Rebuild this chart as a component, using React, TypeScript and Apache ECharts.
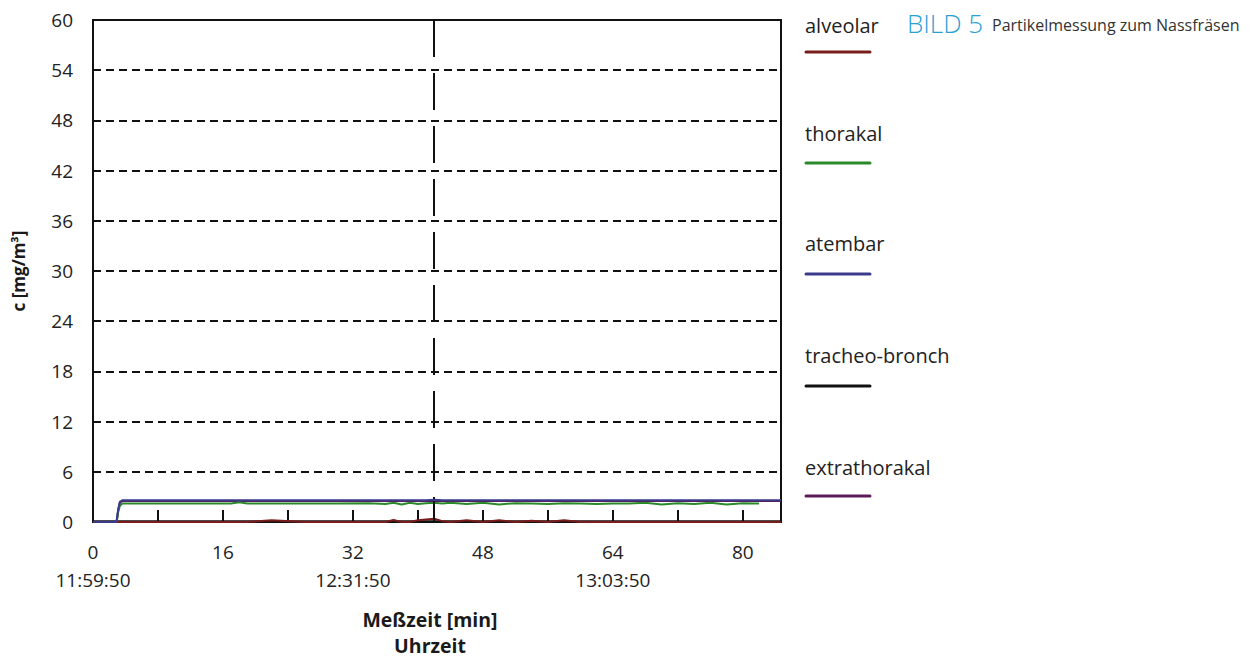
import React, { useEffect, useRef } from "react";
import * as echarts from "echarts";

const minutes = [0, 2.9, 3.1, 3.3, 3.6, 6, 10, 14, 17, 18, 19, 22, 26, 30, 34, 36, 37, 38, 39, 40, 41, 42, 43, 44, 46, 48, 50, 52, 54, 56, 58, 60, 62, 64, 66, 68, 70, 72, 74, 76, 78, 80, 81.5, 82, 84.7];

const atembar = [0, 0, 1.5, 2.4, 2.6, 2.6, 2.6, 2.6, 2.6, 2.6, 2.6, 2.6, 2.6, 2.6, 2.6, 2.6, 2.6, 2.6, 2.6, 2.6, 2.6, 2.65, 2.6, 2.6, 2.6, 2.6, 2.6, 2.6, 2.6, 2.6, 2.6, 2.6, 2.6, 2.6, 2.6, 2.6, 2.6, 2.6, 2.6, 2.6, 2.6, 2.6, 2.6, 2.6, 2.6];
const thorakal = [0, 0, 1.2, 1.9, 2.2, 2.2, 2.2, 2.2, 2.2, 2.35, 2.2, 2.2, 2.2, 2.2, 2.25, 2.15, 2.3, 2.1, 2.3, 2.15, 2.25, 2.3, 2.2, 2.3, 2.15, 2.3, 2.1, 2.25, 2.2, 2.15, 2.25, 2.2, 2.15, 2.2, 2.2, 2.3, 2.1, 2.25, 2.15, 2.3, 2.1, 2.25, 2.2, 2.2, null];
const extrathorakal = [0, 0, 1.4, 2.3, 2.5, 2.5, 2.5, 2.5, 2.5, 2.5, 2.5, 2.5, 2.5, 2.5, 2.5, 2.5, 2.5, 2.5, 2.5, 2.5, 2.5, 2.5, 2.5, 2.5, 2.5, 2.5, 2.5, 2.5, 2.5, 2.5, 2.5, 2.5, 2.5, 2.5, 2.5, 2.5, 2.5, 2.5, 2.5, 2.5, 2.5, 2.5, 2.5, 2.5, 2.5];
const trachBronch = [0.1, 0.1, 0.1, 0.1, 0.1, 0.1, 0.1, 0.1, 0.1, 0.1, 0.1, 0.1, 0.1, 0.1, 0.1, 0.1, 0.1, 0.1, 0.1, 0.1, 0.1, 0.1, 0.1, 0.1, 0.1, 0.1, 0.1, 0.1, 0.1, 0.1, 0.1, 0.1, 0.1, 0.1, 0.1, 0.1, 0.1, 0.1, 0.1, 0.1, 0.1, 0.1, 0.1, 0.1, 0.1];
const alveolar = [0, 0, 0, 0, 0, 0, 0, 0, 0, 0, 0, 0.2, 0, 0, 0, 0, 0.25, 0, 0, 0.2, 0.3, 0.4, 0.1, 0, 0.2, 0, 0.2, 0, 0.15, 0, 0.2, 0, 0, 0, 0, 0, 0, 0, 0, 0, 0, 0, 0, 0, 0];

const markerMinute = 42;

const xTickValues = [0, 16, 32, 48, 64, 80];
const xTimeLabels = ["11:59:50", "", "12:31:50", "", "13:03:50", ""];

const legendNames = ["alveolar", "thorakal", "atembar", "tracheo-bronch", "extrathorakal"];
const legendColors = ["#7a1c1c", "#2a8a2a", "#3a3a8c", "#111111", "#5e1a58"];

const FONT = "'Open Sans', 'Noto Sans', sans-serif";

export default function App() {
  const ref = useRef<HTMLDivElement>(null);

  useEffect(() => {
    if (!ref.current) return;
    const chart = echarts.init(ref.current, undefined, { renderer: "svg" });

    const mk = (vals: (number | null)[]) => minutes.map((m, i) => [m, vals[i]]);

    const legendTextY = [25, 133, 243, 355, 467];
    const legendLineY = [52, 163, 274, 386, 496];

    const graphics: any[] = [];
    legendNames.forEach((n, i) => {
      graphics.push({
        type: "text",
        x: 805,
        y: legendTextY[i],
        style: { text: n, fill: "#222222", font: `20px ${FONT}`, verticalAlign: "middle" },
      });
      graphics.push({
        type: "line",
        shape: { x1: 806, y1: legendLineY[i], x2: 870, y2: legendLineY[i] },
        style: { stroke: legendColors[i], lineWidth: 3, lineCap: "round" },
      });
    });
    graphics.push({
      type: "text",
      x: 907,
      y: 23,
      style: { text: "BILD 5", fill: "#2a9fd6", font: `300 26px ${FONT}`, verticalAlign: "middle" },
    });
    graphics.push({
      type: "text",
      x: 992,
      y: 25,
      style: { text: "Partikelmessung zum Nassfräsen", fill: "#333333", font: `16px ${FONT}`, verticalAlign: "middle" },
    });
    graphics.push({
      type: "text",
      x: 430,
      y: 632,
      style: {
        text: "Meßzeit [min]\nUhrzeit",
        fill: "#1a1a1a",
        font: `bold 19.5px ${FONT}`,
        align: "center",
        verticalAlign: "middle",
        lineHeight: 26,
      },
    });

    const lineSeries = (name: string, vals: (number | null)[], color: string, z: number) => ({
      name,
      type: "line",
      data: mk(vals),
      showSymbol: false,
      symbol: "none",
      z,
      lineStyle: { color, width: 2 },
      itemStyle: { color },
    });

    chart.setOption({
      animation: false,
      grid: {
        left: 93,
        top: 20,
        right: 469,
        bottom: 135,
        show: true,
        borderColor: "#111",
        borderWidth: 2,
        backgroundColor: "transparent",
      },
      xAxis: {
        type: "value",
        min: 0,
        max: 84.7,
        interval: 8,
        axisLine: { show: true, lineStyle: { color: "#111", width: 2 } },
        axisTick: { show: true, inside: true, length: 12, lineStyle: { color: "#111", width: 2 } },
        splitLine: { show: false },
        axisLabel: {
          color: "#222",
          fontFamily: FONT,
          fontSize: 19,
          lineHeight: 28,
          margin: 16,
          showMaxLabel: false,
          formatter: (v: number) => {
            const idx = xTickValues.indexOf(v);
            if (idx < 0) return "";
            return xTimeLabels[idx] ? `${xTickValues[idx]}\n${xTimeLabels[idx]}` : `${xTickValues[idx]}`;
          },
        },
      },
      yAxis: {
        type: "value",
        min: 0,
        max: 60,
        interval: 6,
        name: "c [mg/m³]",
        nameLocation: "middle",
        nameRotate: 90,
        nameGap: 66,
        nameTextStyle: { color: "#1a1a1a", fontFamily: FONT, fontSize: 17, fontWeight: "bold" },
        axisLine: { show: true, lineStyle: { color: "#111", width: 2 } },
        axisTick: { show: false },
        axisLabel: { color: "#222", fontFamily: FONT, fontSize: 19, margin: 20 },
        splitLine: { show: true, lineStyle: { color: "#111", width: 2, type: [8, 5] } },
      },
      graphic: graphics,
      series: [
        lineSeries("tracheo-bronch", trachBronch, legendColors[3], 2),
        lineSeries("alveolar", alveolar, legendColors[0], 3),
        lineSeries("extrathorakal", extrathorakal, legendColors[4], 3),
        lineSeries("thorakal", thorakal, legendColors[1], 4),
        {
          ...lineSeries("atembar", atembar, legendColors[2], 5),
          markLine: {
            silent: true,
            symbol: ["none", "none"],
            label: { show: false },
            lineStyle: { color: "#111", width: 2, type: [37, 16] },
            data: [[{ coord: [markerMinute, 60] }, { coord: [markerMinute, 0] }]],
          },
        },
      ],
    });

    return () => chart.dispose();
  }, []);

  return (
    <div
      ref={ref}
      style={{ position: "fixed", left: 0, top: 0, width: 1250, height: 657, background: "#fff" }}
    />
  );
}
